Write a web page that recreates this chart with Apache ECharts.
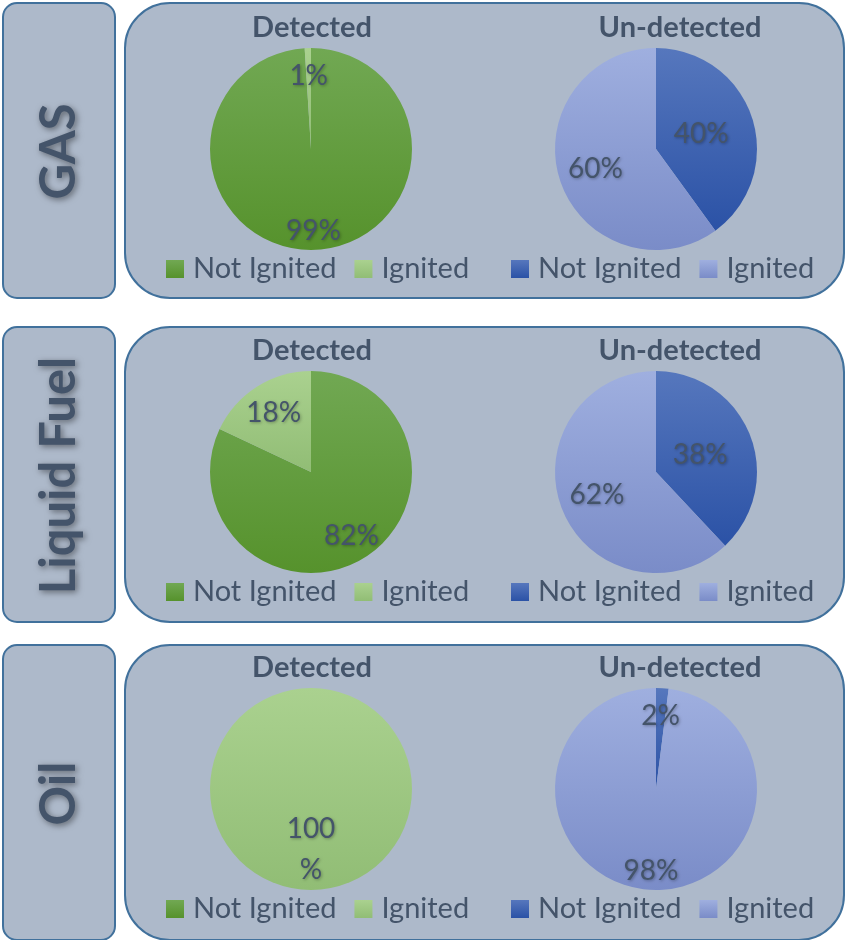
<!DOCTYPE html>
<html>
<head>
<meta charset="utf-8">
<script src="https://cdn.jsdelivr.net/npm/echarts@6/dist/echarts.min.js"></script>
<style>
  html, body { margin: 0; padding: 0; background: #ffffff; }
  #chart { width: 846px; height: 940px; }
</style>
</head>
<body>
<div id="chart"></div>
<script>
// 数据
var rowNames = ['GAS', 'Liquid Fuel', 'Oil'];
var groupTitles = ['Detected', 'Un-detected'];
var statusNames = ['Not Ignited', 'Ignited'];
var detectedNotIgnited = [99, 82, 0];
var detectedIgnited = [1, 18, 100];
var undetectedNotIgnited = [40, 38, 2];
var undetectedIgnited = [60, 62, 98];

// 布局
var boxTops = [3, 327, 645];
var boxHeight = 295;
var pieY = [149, 472, 789];
var pieX = [311, 656];
var titleX = [312, 680];
var legendX = [166, 511];
var pieR = 101;

var textColor = '#44546a';
var fontName = 'Lato, "Noto Sans", sans-serif';

function grad(top, bottom) {
    return new echarts.graphic.LinearGradient(0, 0, 0, 1, [
        { offset: 0, color: top },
        { offset: 1, color: bottom }
    ]);
}
// 颜色: [Not Ignited, Ignited] per group
var palette = [
    [grad('#71a853', '#56922c'), grad('#aad18f', '#91bd75')],
    [grad('#5677bd', '#2b52a6'), grad('#9fafdf', '#7a8cc8')]
];

var chart = echarts.init(document.getElementById('chart'));

var graphics = [];
var series = [];
var legends = [];

// 标签离圆心的距离 (半径的比例), 近似 Excel 的 best fit
function labelRadius(p) {
    if (p >= 100) return 0.57;
    if (p < 10) return 0.69;
    if (p > 90) return 0.78;
    if (p < 25) return 0.66;
    if (p > 75) return 0.72;
    if (p < 50) return 0.44;
    return 0.6;
}

rowNames.forEach(function (rowName, r) {
    var top = boxTops[r];
    // 左侧标签框
    graphics.push({
        type: 'rect', z: 0,
        shape: { x: 3, y: top, width: 112, height: boxHeight, r: 14 },
        style: { fill: '#adb9ca', stroke: '#41719c', lineWidth: 2 }
    });
    graphics.push({
        type: 'text', z: 100,
        x: 59, y: (top + top + boxHeight) / 2 + 1,
        rotation: Math.PI / 2,
        style: {
            text: rowName,
            font: 'bold 49px ' + fontName,
            fill: textColor,
            textAlign: 'center',
            textVerticalAlign: 'middle',
            shadowColor: 'rgba(0,0,0,0.45)', shadowBlur: 6, shadowOffsetX: 2, shadowOffsetY: 2,
            textShadowColor: 'rgba(0,0,0,0.45)', textShadowBlur: 6, textShadowOffsetX: 2, textShadowOffsetY: 2
        }
    });
    // 右侧大框
    graphics.push({
        type: 'rect', z: 0,
        shape: { x: 125, y: top, width: 719, height: boxHeight, r: 45 },
        style: { fill: '#adb9ca', stroke: '#41719c', lineWidth: 2 }
    });

    var groups = [
        [detectedNotIgnited[r], detectedIgnited[r]],
        [undetectedNotIgnited[r], undetectedIgnited[r]]
    ];

    groups.forEach(function (vals, g) {
        var cx = pieX[g], cy = pieY[r];
        graphics.push({
            type: 'text', z: 100,
            x: titleX[g], y: cy - 121,
            style: {
                text: groupTitles[g],
                font: 'bold 29px ' + fontName,
                fill: textColor,
                textAlign: 'center',
                textVerticalAlign: 'middle'
            }
        });

        var total = vals[0] + vals[1];
        var cum = 0;
        var data = vals.map(function (v, i) {
            var p = v / total * 100;
            var theta = (cum + p / 2) / 100 * Math.PI * 2;
            cum += p;
            var k = labelRadius(p) - 0.5;
            var lbl = {
                offset: [k * pieR * Math.sin(theta), -k * pieR * Math.cos(theta)]
            };
            if (p >= 100) lbl.lineHeight = 41;
            return {
                name: statusNames[i],
                value: v,
                itemStyle: { color: palette[g][i] },
                label: lbl
            };
        });

        series.push({
            type: 'pie',
            center: [cx, cy],
            radius: [0, pieR],
            startAngle: 90,
            clockwise: true,
            silent: true,
            animation: false,
            minShowLabelAngle: 1,
            itemStyle: { borderWidth: 0 },
            label: {
                show: true,
                position: 'inside',
                color: textColor,
                fontSize: 28,
                fontFamily: fontName,
                lineHeight: 30,
                textShadowColor: 'rgba(0,0,0,0.3)',
                textShadowBlur: 3,
                textShadowOffsetX: 1,
                textShadowOffsetY: 1,
                formatter: function (p) {
                    if (!p.value) return '';
                    return p.value >= 100 ? p.value + '\n%' : p.value + '%';
                }
            },
            labelLine: { show: false },
            emphasis: { disabled: true },
            data: data
        });

        legends.push({
            left: legendX[g],
            top: cy + 120 - 15,
            padding: 0,
            orient: 'horizontal',
            icon: 'rect',
            itemWidth: 18,
            itemHeight: 18,
            itemGap: 18,
            selectedMode: false,
            textStyle: {
                color: textColor,
                fontSize: 29,
                fontFamily: fontName,
                lineHeight: 30,
                padding: [0, 0, 0, 4]
            },
            data: statusNames.map(function (n, i) {
                return { name: n, itemStyle: { color: palette[g][i] } };
            })
        });
    });
});

chart.setOption({
    animation: false,
    backgroundColor: '#ffffff',
    graphic: { elements: graphics },
    legend: legends,
    series: series
});
</script>
</body>
</html>
